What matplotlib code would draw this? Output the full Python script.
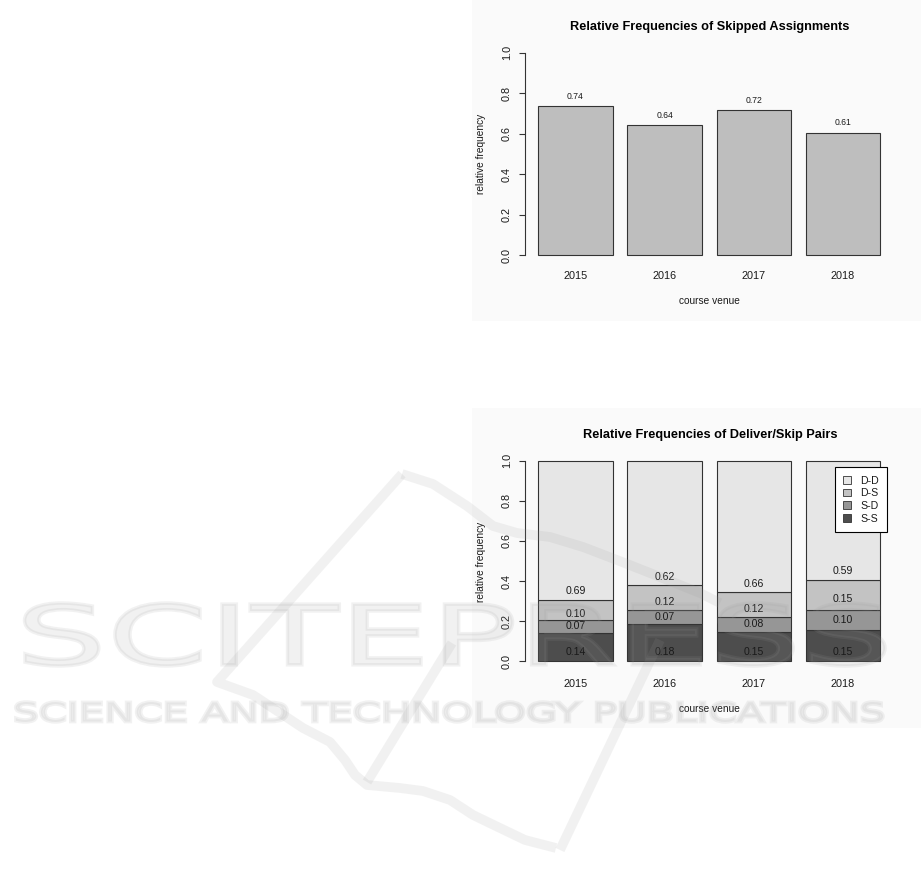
#!/usr/bin/env python3
"""
Relative frequencies of skipped assignments and deliver/skip pairs per course venue.
"""

import matplotlib
matplotlib.use("Agg")
import matplotlib.pyplot as plt
import numpy as np
from matplotlib.patches import Patch, Rectangle, PathPatch
from matplotlib.path import Path
from matplotlib.textpath import TextPath
from matplotlib.font_manager import FontProperties

plt.rcParams['font.family'] = ['Liberation Sans', 'DejaVu Sans']

# data
years = ['2015', '2016', '2017', '2018']
skipped = [0.736, 0.643, 0.716, 0.606]

pair_labels = ['D-D', 'D-S', 'S-D', 'S-S']
pair_colors = ['#E6E6E6', '#C3C3C3', '#969696', '#4D4D4D']
ss = [0.140, 0.184, 0.146, 0.154]
sd = [0.067, 0.074, 0.076, 0.104]
ds = [0.100, 0.120, 0.121, 0.148]
dd = [0.693, 0.622, 0.657, 0.594]

W, H = 921, 896
EDGE = '#333333'
TXT = '#1a1a1a'


def fx(x):
    return x / W


def fy(y):
    return 1 - y / H


def make_axes(fig, top, bottom):
    """Axes with R-style limits, placed by pixel edges."""
    left, right = 524.6, 893.7
    ax = fig.add_axes([fx(left), fy(bottom), (right - left) / W, (bottom - top) / H], zorder=2)
    ax.set_facecolor('none')
    ax.set_xlim(0.016, 4.984)
    ax.set_ylim(-0.04, 1.04)
    for s in ['top', 'right', 'bottom']:
        ax.spines[s].set_visible(False)
    ax.spines['left'].set_bounds(0, 1)
    ax.spines['left'].set_color(EDGE)
    ax.spines['left'].set_linewidth(0.8)
    ax.set_yticks(np.arange(0, 1.01, 0.2))
    ax.set_yticklabels([f'{v:.1f}' for v in np.arange(0, 1.01, 0.2)])
    ax.tick_params(axis='y', length=4.3, width=0.8, color=EDGE, pad=5,
                   labelsize=7.8, labelcolor=TXT, labelrotation=90)
    for lab in ax.get_yticklabels():
        lab.set_va('center')
    return ax


fig = plt.figure(figsize=(W / 100, H / 100), dpi=100)
fig.patch.set_facecolor('white')

# light backgrounds of the two embedded chart images
fig.patches.append(Rectangle((fx(471.7), fy(320.7)), 1 - fx(471.7), 320.7 / H,
                             transform=fig.transFigure, facecolor='#fafafa',
                             edgecolor='none', zorder=-5))
fig.patches.append(Rectangle((fx(471.7), fy(728)), 1 - fx(471.7), (728 - 408.3) / H,
                             transform=fig.transFigure, facecolor='#fafafa',
                             edgecolor='none', zorder=-5))

centers = 0.7 + 1.2 * np.arange(len(years))

# --- top chart: skipped assignments
ax1 = make_axes(fig, 44.6, 263.4)
ax1.bar(centers, skipped, width=1.0, color='#BEBEBE', edgecolor=EDGE, linewidth=0.8)
for x, v in zip(centers, skipped):
    ax1.annotate(f'{v:.2f}', xy=(x, v), xytext=(0, 7), textcoords='offset points',
                 ha='center', va='center', fontsize=6.2, color=TXT)
ax1.set_xticks(centers)
ax1.set_xticklabels(years)
ax1.tick_params(axis='x', length=0, pad=5.5, labelsize=7.8, labelcolor=TXT)

fig.text(fx(709.5), fy(26.7), 'Relative Frequencies of Skipped Assignments',
         ha='center', va='center', fontsize=9.2, fontweight='bold', color='black')
fig.text(fx(709), fy(301), 'course venue', ha='center', va='center', fontsize=7.3, color=TXT)
fig.text(fx(481), fy(154), 'relative frequency', ha='center', va='center',
         rotation=90, fontsize=7.3, color=TXT)

# --- bottom chart: deliver/skip pairs (stacked)
ax2 = make_axes(fig, 452.7, 669.3)
stack = [ss, sd, ds, dd]
stack_colors = pair_colors[::-1]
bottoms = np.zeros(len(years))
for vals, col in zip(stack, stack_colors):
    ax2.bar(centers, vals, width=1.0, bottom=bottoms, color=col,
            edgecolor=EDGE, linewidth=0.8)
    bottoms = bottoms + np.array(vals)

for i, x in enumerate(centers):
    b1 = ss[i]
    b2 = b1 + sd[i]
    b3 = b2 + ds[i]
    ax2.text(x, 0.048, f'{ss[i]:.2f}', ha='center', va='center', fontsize=7.6, color=TXT)
    ax2.text(x, (b1 + b2) / 2, f'{sd[i]:.2f}', ha='center', va='center', fontsize=7.6, color=TXT)
    ax2.annotate(f'{ds[i]:.2f}', xy=(x, (b2 + b3) / 2), xytext=(0, -3),
                 textcoords='offset points', ha='center', va='center', fontsize=7.6, color=TXT)
    ax2.annotate(f'{dd[i]:.2f}', xy=(x, b3), xytext=(0, 6.3),
                 textcoords='offset points', ha='center', va='center', fontsize=7.6, color=TXT)

ax2.set_xticks(centers)
ax2.set_xticklabels(years)
ax2.tick_params(axis='x', length=0, pad=7.2, labelsize=7.8, labelcolor=TXT)

handles = [Patch(facecolor=c, edgecolor=EDGE, linewidth=0.6) for c in pair_colors]
leg = ax2.legend(handles, pair_labels, loc='upper right',
                 bbox_to_anchor=(fx(887.3), fy(467.3)), bbox_transform=fig.transFigure,
                 borderaxespad=0, fontsize=7.6, frameon=True, fancybox=False,
                 framealpha=1, edgecolor='black', handlelength=0.75, handleheight=0.75,
                 handletextpad=0.9, labelspacing=0.26, borderpad=0.78)
leg.get_frame().set_linewidth(0.8)
for t in leg.get_texts():
    t.set_color(TXT)

fig.text(fx(710), fy(435), 'Relative Frequencies of Deliver/Skip Pairs',
         ha='center', va='center', fontsize=9.2, fontweight='bold', color='black')
fig.text(fx(709), fy(709.3), 'course venue', ha='center', va='center', fontsize=7.3, color=TXT)
fig.text(fx(481), fy(562), 'relative frequency', ha='center', va='center',
         rotation=90, fontsize=7.3, color=TXT)

# --- faint publisher watermark over the page
wm = fig.add_axes([0, 0, 1, 1], zorder=10)
wm.set_xlim(0, W)
wm.set_ylim(H, 0)
wm.axis('off')
wm.patch.set_alpha(0)

WM_COLOR = '#9a9a9a'
WM_ALPHA = 0.13


def stretched_text(s, x0, x1, y0, y1):
    tp = TextPath((0, 0), s, size=100, prop=FontProperties(family='DejaVu Sans'))
    v = tp.vertices.copy()
    vmin, vmax = v.min(axis=0), v.max(axis=0)
    v[:, 0] = x0 + (v[:, 0] - vmin[0]) / (vmax[0] - vmin[0]) * (x1 - x0)
    v[:, 1] = y1 - (v[:, 1] - vmin[1]) / (vmax[1] - vmin[1]) * (y1 - y0)
    wm.add_patch(PathPatch(Path(v, tp.codes), facecolor=WM_COLOR, edgecolor=WM_COLOR,
                           linewidth=2.5, alpha=WM_ALPHA))


stretched_text('SCITEPRESS', 15, 885, 603, 666)
stretched_text('SCIENCE AND TECHNOLOGY PUBLICATIONS', 13, 883, 702, 722)

logo_strokes = [
    [(402, 474), (217, 682), (253, 695), (303, 728), (330, 742), (345, 760), (355, 775),
     (367, 785), (400, 788), (423, 791), (450, 800), (473, 815), (500, 828), (525, 840),
     (556, 848)],
    [(402, 474), (433, 484), (467, 506), (493, 526), (517, 533), (550, 537), (583, 547),
     (617, 560), (650, 573), (700, 593), (720, 603)],
    [(452, 643), (367, 782)],
    [(660, 640), (560, 850)],
]
for pts in logo_strokes:
    xs, ys = zip(*pts)
    wm.plot(xs, ys, color=WM_COLOR, alpha=WM_ALPHA, linewidth=7,
            solid_joinstyle='round', solid_capstyle='butt')

fig.savefig('out.png', dpi=100)
